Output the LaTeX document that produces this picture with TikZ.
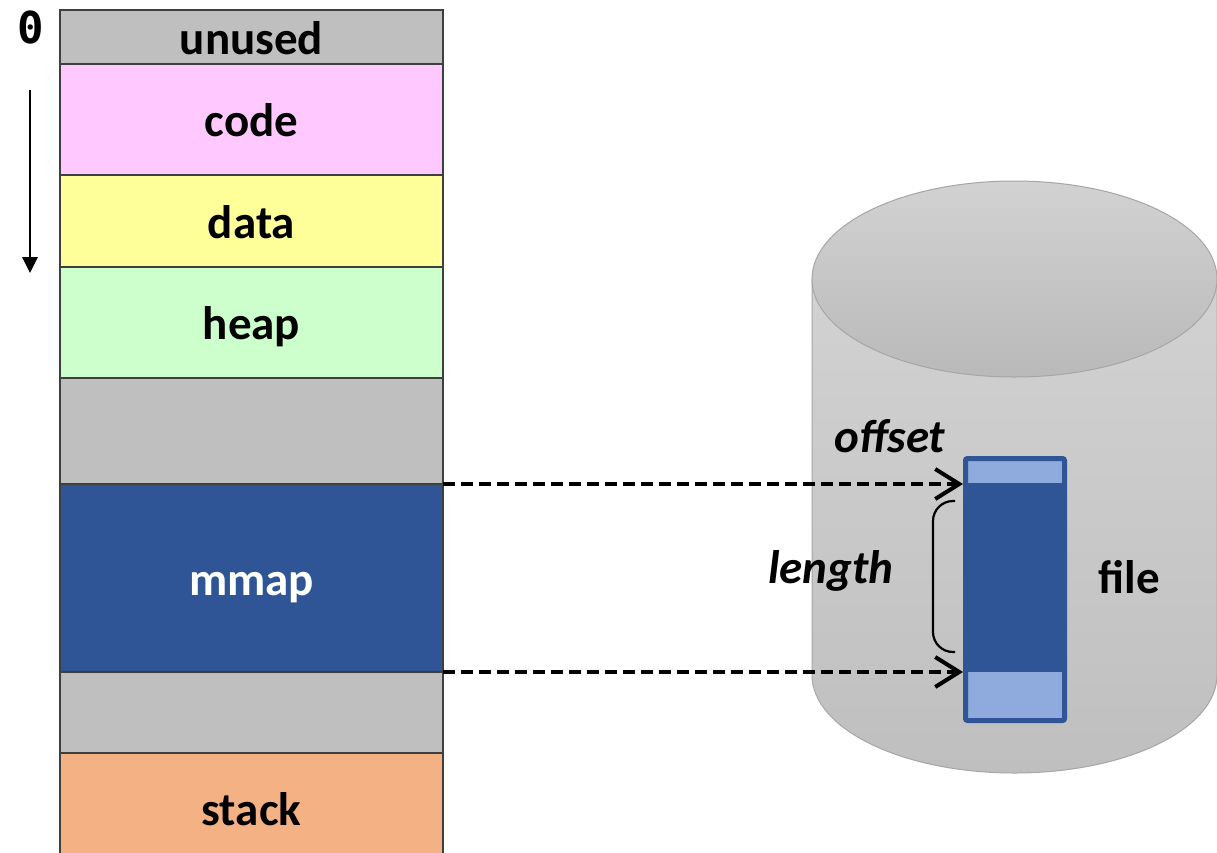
\documentclass[tikz,border=0pt]{standalone}
\usepackage{fontspec}
\setmainfont{Carlito}
\newfontfamily\monofnt{DejaVu Sans Mono}
\usetikzlibrary{arrows.meta}
\definecolor{unusedgray}{HTML}{BFBFBF}
\definecolor{codepink}{HTML}{FFC9FF}
\definecolor{datayellow}{HTML}{FFFF99}
\definecolor{heapgreen}{HTML}{CCFFCC}
\definecolor{mmapblue}{HTML}{2F5597}
\definecolor{stackorange}{HTML}{F4B183}
\definecolor{lightblue}{HTML}{8FAADC}
\definecolor{cyltop}{HTML}{D2D2D2}
\definecolor{cylbot}{HTML}{BFBFBF}
\definecolor{cylline}{HTML}{A6A6A6}
\definecolor{rowline}{HTML}{3F3F3F}
\begin{document}
\begin{tikzpicture}[x=1pt,y=-1pt,
  row/.style={draw=rowline, line width=1.2pt, minimum width=383pt, inner sep=0pt, outer sep=0pt,
    anchor=north west, text height=34pt, text depth=0pt,
    font=\fontsize{47}{50}\selectfont\bfseries},
  lbl/.style={anchor=base, inner sep=0pt, font=\fontsize{47}{50}\selectfont\bfseries},
  dasharrow/.style={line width=3.2pt, dash pattern=on 12pt off 6pt,
    -{Straight Barb[length=24pt, width=30pt, line width=4pt]}},
  cylpart/.style={draw=cylline, line width=1pt}
]
\clip (0,0) rectangle (1217,852);
\fill[white] (0,0) rectangle (1217,852);

% memory layout
\node[row, fill=unusedgray, minimum height=54pt] (unused) at (60,10) {unused};
\node[row, fill=codepink, minimum height=111pt] (code) at (60,64) {code};
\node[row, fill=datayellow, minimum height=92pt] (data) at (60,175) {data};
\node[row, fill=heapgreen, minimum height=111pt] (heap) at (60,267) {heap};
\node[row, fill=unusedgray, minimum height=106pt] (gapA) at (60,378) {};
\node[row, fill=mmapblue, minimum height=188pt, text=white] (mmap) at (60,484) {mmap};
\node[row, fill=unusedgray, minimum height=81pt] (gapB) at (60,672) {};
\node[row, fill=stackorange, minimum height=110pt] (stack) at (60,753) {stack};

% address arrow
\node[font=\monofnt\bfseries\fontsize{44}{44}\selectfont, inner sep=0pt] (zero) at (31,27) {0};
\coordinate (atop) at (30,90);
\coordinate (abot) at (30,273);
\draw[line width=2.8pt, -{Triangle[length=16pt, width=15pt]}] (atop) -- (abot);

% cylinder
\path[cylpart, top color=cyltop, bottom color=cylbot]
  (812,279) -- (812,675) arc[start angle=180, end angle=360, x radius=202.5pt, y radius=98pt]
  -- (1217,279) -- cycle;
\path[cylpart, top color=cyltop, bottom color=cylbot!97!black]
  (1014.5,279) ellipse[x radius=202.5pt, y radius=98pt];

% file block
\node[draw=mmapblue, fill=lightblue, line width=5pt, minimum width=99pt, minimum height=262pt,
  rounded corners=2pt, inner sep=0pt, outer sep=0pt] (fileblk) at (1015,589.5) {};
\node[fill=mmapblue, minimum width=104pt, minimum height=189pt, inner sep=0pt, outer sep=0pt]
  (mapped) at (1015,577) {};

% mapping arrows
\draw[dasharrow] (mmap.north east) -- (mmap.north east -| mapped.west);
\draw[dasharrow] (mmap.south east) -- (mmap.south east -| mapped.west);

% brace
\draw[line width=2.2pt, rounded corners=20pt] (955,501) -- (933,501) -- (933,652) -- (955,652);

% labels
\node[lbl, font=\fontsize{47}{50}\selectfont\bfseries\itshape] (offsetlbl) at (890,452) {offset};
\node[lbl, font=\fontsize{47}{50}\selectfont\bfseries\itshape] (lengthlbl) at (831,583) {length};
\node[lbl] (filelbl) at (1129.5,593) {file};
\end{tikzpicture}
\end{document}
